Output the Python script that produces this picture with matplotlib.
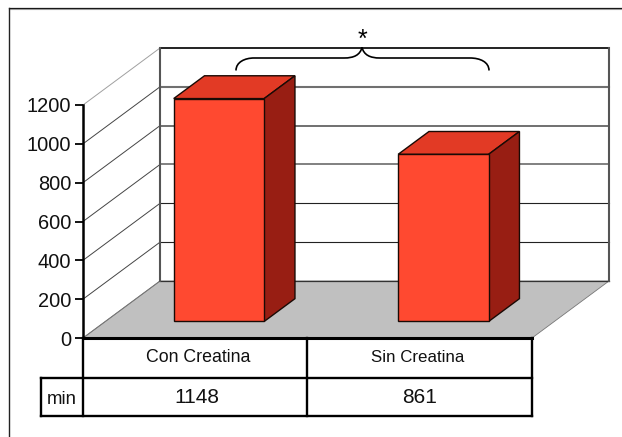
import matplotlib
matplotlib.use("Agg")
import matplotlib.pyplot as plt
from matplotlib.patches import Polygon, PathPatch
from matplotlib.path import Path

categories = ["Con Creatina", "Sin Creatina"]
minutes = [1148, 861]
y_ticks = [0, 200, 400, 600, 800, 1000, 1200]
row_label = "min"

W, H = 622, 437
plt.rcParams["font.family"] = ["Liberation Sans", "DejaVu Sans"]
fig = plt.figure(figsize=(W / 100, H / 100), dpi=100, facecolor="white")

# Front plane of the 3-D box, in pixels
X0, X1, Y0, Y1 = 83.0, 532.0, 338.0, 105.0
ax = fig.add_axes([X0 / W, 1 - Y0 / H, (X1 - X0) / W, (Y0 - Y1) / H])
ax.set_xlim(0, len(categories))
ax.set_ylim(0, 1200)
ax.patch.set_visible(False)

px_x = len(categories) / (X1 - X0)
px_y = 1200 / (Y0 - Y1)
DX, DY = 77 * px_x, 57 * px_y


def proj(x, v, d):
    """Project a point of the box, d=0 at the front and d=1 at the back wall."""
    return (x + d * DX, v + d * DY)


def poly(points, **kw):
    ax.add_patch(Polygon(points, closed=True, clip_on=False, **kw))


# Floor
poly([proj(0, 0, 0), proj(2, 0, 0), proj(2, 0, 1), proj(0, 0, 1)],
     facecolor="#C0C0C0", edgecolor="#777777", lw=0.6, zorder=1)

# Back wall and side wall gridlines
grid_style = {0: ("#333333", 0.9), 200: ("#222222", 0.8), 400: ("#222222", 0.8),
              600: ("#808080", 1.4), 800: ("#707070", 1.4), 1000: ("#707070", 1.5),
              1200: ("#222222", 1.4)}
for t in y_ticks:
    col, lw = grid_style[t]
    ax.plot(*zip(proj(0, t, 1), proj(2, t, 1)), color=col, lw=lw, clip_on=False, zorder=1.5)
    side = "#A0A0A0" if t == 1200 else "#444444"
    if t == 0:
        side = "#777777"
    ax.plot(*zip(proj(0, t, 0), proj(0, t, 1)), color=side, lw=0.7, clip_on=False, zorder=1.5)
ax.plot(*zip(proj(0, 0, 1), proj(0, 1200, 1)), color="#555555", lw=1.5, clip_on=False, zorder=1.5)
ax.plot(*zip(proj(2, 0, 1), proj(2, 1200, 1)), color="#555555", lw=1.5, clip_on=False, zorder=1.5)

# 3-D bars
BAR_W, D_FRONT, D_BACK = 0.403, 0.29, 0.69
FRONT, TOP, SIDE = "#FF4930", "#E23A25", "#981E13"
for i, value in enumerate(minutes):
    left = i + 0.5 + 0.006 - BAR_W / 2
    right = left + BAR_W
    fx, base = proj(left, 0, D_FRONT)
    ax.bar(fx, value, width=BAR_W, bottom=base, align="edge", color=FRONT,
           edgecolor="#1a0a05", linewidth=1.0, clip_on=False, zorder=3)
    poly([proj(left, value, D_FRONT), proj(right, value, D_FRONT),
          proj(right, value, D_BACK), proj(left, value, D_BACK)],
         facecolor=TOP, edgecolor="#1a0a05", lw=1.0, zorder=2.9)
    poly([proj(right, 0, D_FRONT), proj(right, 0, D_BACK),
          proj(right, value, D_BACK), proj(right, value, D_FRONT)],
         facecolor=SIDE, edgecolor="#1a0a05", lw=1.0, zorder=2.9)

# Value axis
for s in ("top", "right", "bottom"):
    ax.spines[s].set_visible(False)
ax.spines["left"].set_linewidth(1.8)
ax.spines["left"].set_zorder(4)
ax.set_xticks([])
ax.set_yticks(y_ticks)
ax.tick_params(axis="y", length=6, width=1.3, pad=2.5, labelsize=14.4, labelcolor="#111111")

# Overlay in pixel coordinates: frame, data table, brace
ov = fig.add_axes([0, 0, 1, 1], zorder=5)
ov.set_xlim(0, W)
ov.set_ylim(H, 0)
ov.axis("off")
ov.patch.set_visible(False)

ov.plot([9, W], [8.0, 8.0], color="#111111", lw=0.9)
ov.plot([9, W], [9.0, 9.0], color="#999999", lw=0.8)
ov.plot([9, 9], [8.0, H], color="#222222", lw=1.0)

TBL = {"color": "black", "lw": 1.7, "solid_capstyle": "projecting"}
COL_MID = 307.0
ov.plot([X0, X1], [338, 338], **{**TBL, "lw": 2.2})
ov.plot([41, X1], [378, 378], **TBL)
ov.plot([41, X1], [416, 416], **TBL)
ov.plot([X0, X0], [338, 416], **TBL)
ov.plot([COL_MID, COL_MID], [338, 416], **TBL)
ov.plot([X1, X1], [338, 416], **TBL)
ov.plot([41, 41], [378, 416], **TBL)

cell_centers = [198, 418]
font_sizes = [12.8, 12.2]
for cx, name, fs in zip(cell_centers, categories, font_sizes):
    ov.text(cx, 358, name, ha="center", va="center", fontsize=fs, color="#111111")
for cx, value in zip([197, 419.5], minutes):
    ov.text(cx, 397.5, str(value), ha="center", va="center", fontsize=15, color="#111111")
ov.text(62, 399, row_label, ha="center", va="center", fontsize=13.4, color="#111111")

# Significance brace
verts = [(236, 70.5), (236, 62), (245, 58), (254, 58), (344, 58),
         (354, 58), (360, 55), (362, 47.5), (364, 55), (370, 58), (380, 58),
         (470, 58), (480, 58), (489, 62), (489, 70.5)]
codes = [Path.MOVETO, Path.CURVE4, Path.CURVE4, Path.CURVE4, Path.LINETO,
         Path.CURVE4, Path.CURVE4, Path.CURVE4, Path.CURVE4, Path.CURVE4, Path.CURVE4,
         Path.LINETO, Path.CURVE4, Path.CURVE4, Path.CURVE4]
ov.add_patch(PathPatch(Path(verts, codes), facecolor="none", edgecolor="black", lw=1.2))
ov.text(362.5, 40, "*", ha="center", va="center", fontsize=18, color="black")

fig.savefig("out.png", dpi=100, facecolor="white")
